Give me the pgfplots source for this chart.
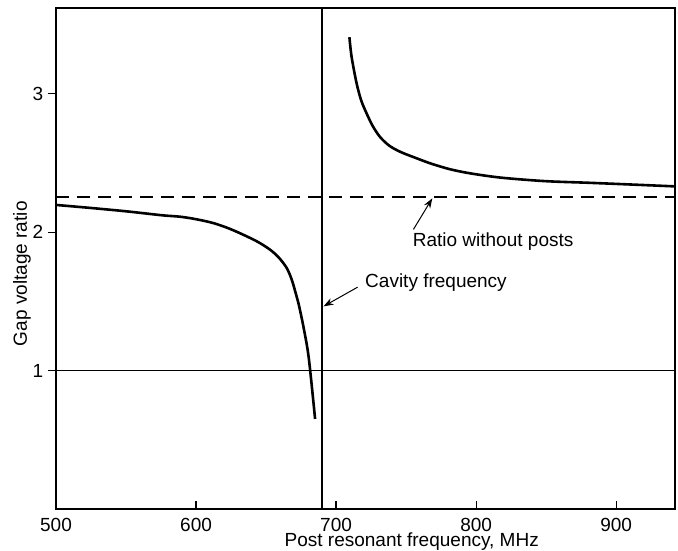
\documentclass[border=0pt]{standalone}
\usepackage{fontspec}
\setmainfont{Liberation Sans}
\usepackage{pgfplots}
\pgfplotsset{compat=1.18}
\usetikzlibrary{arrows.meta}
\begin{document}
\fontsize{9.5}{11}\selectfont
\begin{tikzpicture}
\begin{axis}[
  scale only axis, width=309.5pt, height=250.5pt,
  xmin=500, xmax=942, ymin=0, ymax=3.62,
  xtick={500,600,700,800,900}, ytick={1,2,3},
  xtick pos=bottom, ytick pos=left,
  tick align=inside, major tick length=4pt,
  y tick style={xshift=-4pt},
  tick style={black, line width=0.6pt},
  axis line style={line width=0.6pt},
  /pgf/number format/assume math mode=true,
  xticklabel style={font=\fontsize{9.5}{11}\selectfont, yshift=-1pt},
  yticklabel style={font=\fontsize{9.5}{11}\selectfont, xshift=-3pt},
  clip=false,
]
\path (rel axis cs:0,0) coordinate (sw) (rel axis cs:1,1) coordinate (ne);
% curve, left branch
\addplot[black, line width=1.3pt, smooth, tension=0.5] coordinates {
(500,2.197) (525,2.175) (551,2.150) (576,2.122) (588.5,2.112) (600,2.094)
(612.3,2.066) (624,2.025) (636.2,1.970) (645,1.925) (652.8,1.874)
(659,1.818) (664.7,1.742) (668.3,1.658) (671,1.565) (673.5,1.470)
(677,1.300) (680.5,1.090) (685,0.651)};
% curve, right branch
\addplot[black, line width=1.3pt, smooth, tension=0.5] coordinates {
(709.5,3.409) (711.1,3.265) (714.7,3.073) (718,2.950) (721.8,2.858)
(726,2.770) (731.3,2.689) (738,2.625) (746,2.580) (757.5,2.534)
(768,2.495) (781.3,2.455) (795.9,2.425) (817.9,2.394) (849.2,2.369)
(880.6,2.357) (911.9,2.344) (942,2.331)};
% ratio without posts
\addplot[black, line width=0.8pt, dash pattern=on 6.5pt off 4pt] coordinates {(500,2.253) (942,2.253)};
% unity line
\addplot[black, line width=0.7pt] coordinates {(500,1) (942,1)};
% cavity frequency
\addplot[black, line width=0.9pt] coordinates {(690,0) (690,3.62)};
\node[anchor=west] at (axis cs:716,1.633) {Cavity frequency};
\draw[line width=0.5pt, -{Stealth[length=5pt,width=3.5pt]}] (axis cs:715.4,1.603) -- (axis cs:691,1.464);
\node[anchor=west] at (axis cs:750,1.932) {Ratio without posts};
\draw[line width=0.5pt, -{Stealth[length=5pt,width=3.5pt]}] (axis cs:755.2,2.02) -- (axis cs:768.7,2.245);
\node at (axis cs:754,0) [yshift=-16.5pt] {Post resonant frequency, MHz};
\node[rotate=90] at ([xshift=-17pt]axis cs:500,1.70) {Gap voltage ratio};
\end{axis}
\pgfresetboundingbox
\path[use as bounding box] ([xshift=-28pt,yshift=-20.5pt]sw) rectangle ([xshift=1.5pt,yshift=4pt]ne);
\end{tikzpicture}
\end{document}
